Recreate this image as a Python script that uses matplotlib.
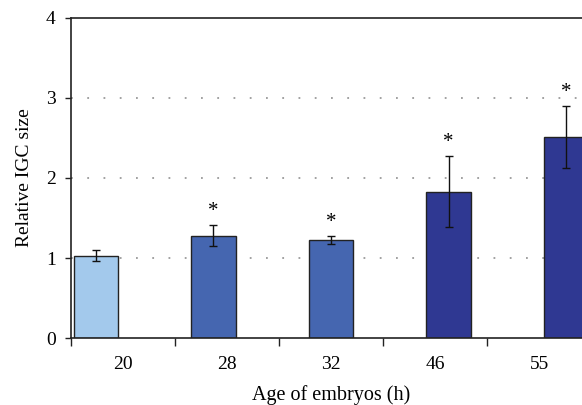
"""Relative IGC size by embryo age, bar chart with SD error bars."""

import matplotlib

matplotlib.use("Agg")
import matplotlib.pyplot as plt
import numpy as np

AGES = ["20", "28", "32", "46", "55"]
IGC_SIZE = [1.03, 1.28, 1.22, 1.83, 2.51]
IGC_ERR = [0.07, 0.135, 0.05, 0.44, 0.385]
SIGNIFICANT = [False, True, True, True, True]
COLORS = ["#a3c9ec", "#4566b0", "#4566b0", "#2f3892", "#2f3892"]

plt.rcParams.update(
    {
        "font.family": ["Liberation Serif", "DejaVu Serif"],
        "font.size": 14,
    }
)

figure = plt.figure(figsize=(5.82, 4.05), dpi=100)
axis = figure.add_axes((0.122, 0.1654, 0.8935, 0.7902))

index = np.arange(len(AGES))
# each age sits in its own series slot, like a grouped chart
centers = index + 0.5 + (index - 2) * 0.13

axis.bar(
    centers,
    IGC_SIZE,
    width=0.43,
    color=COLORS,
    edgecolor="#222222",
    linewidth=1.0,
    zorder=2,
)
axis.errorbar(
    centers,
    IGC_SIZE,
    yerr=IGC_ERR,
    fmt="none",
    ecolor="#111111",
    elinewidth=1.0,
    capsize=3.2,
    capthick=1.0,
    zorder=3,
)
for x, value, err, star in zip(centers, IGC_SIZE, IGC_ERR, SIGNIFICANT):
    if star:
        axis.text(x, value + err + 0.05, "*", ha="center", va="bottom", fontsize=15)

axis.set_xlim(0, len(AGES))
axis.set_ylim(0, 4)
axis.set_yticks([0, 1, 2, 3, 4])
axis.set_xticks(index + 0.5)
axis.set_xticklabels(AGES)
axis.set_xticks(np.arange(len(AGES) + 1), minor=True)
axis.tick_params(axis="x", which="major", length=0, pad=13, labelsize=14)
axis.tick_params(axis="x", which="minor", length=6, width=1.0, color="#222222")
axis.tick_params(axis="y", length=4, width=1.0, color="#222222", labelsize=14, pad=7)

for value in (1, 2, 3):
    axis.axhline(value, color="#9a9a9a", linestyle=(0, (1, 8)), linewidth=1.3, zorder=1)

for side in ("left", "bottom", "top"):
    axis.spines[side].set_color("#222222")
    axis.spines[side].set_linewidth(1.2)
axis.spines["right"].set_visible(False)

axis.set_xlabel("Age of embryos (h)", fontsize=14.5, labelpad=9)
axis.set_ylabel("Relative IGC size", fontsize=14, labelpad=9)

figure.savefig("out.png", dpi=100)
